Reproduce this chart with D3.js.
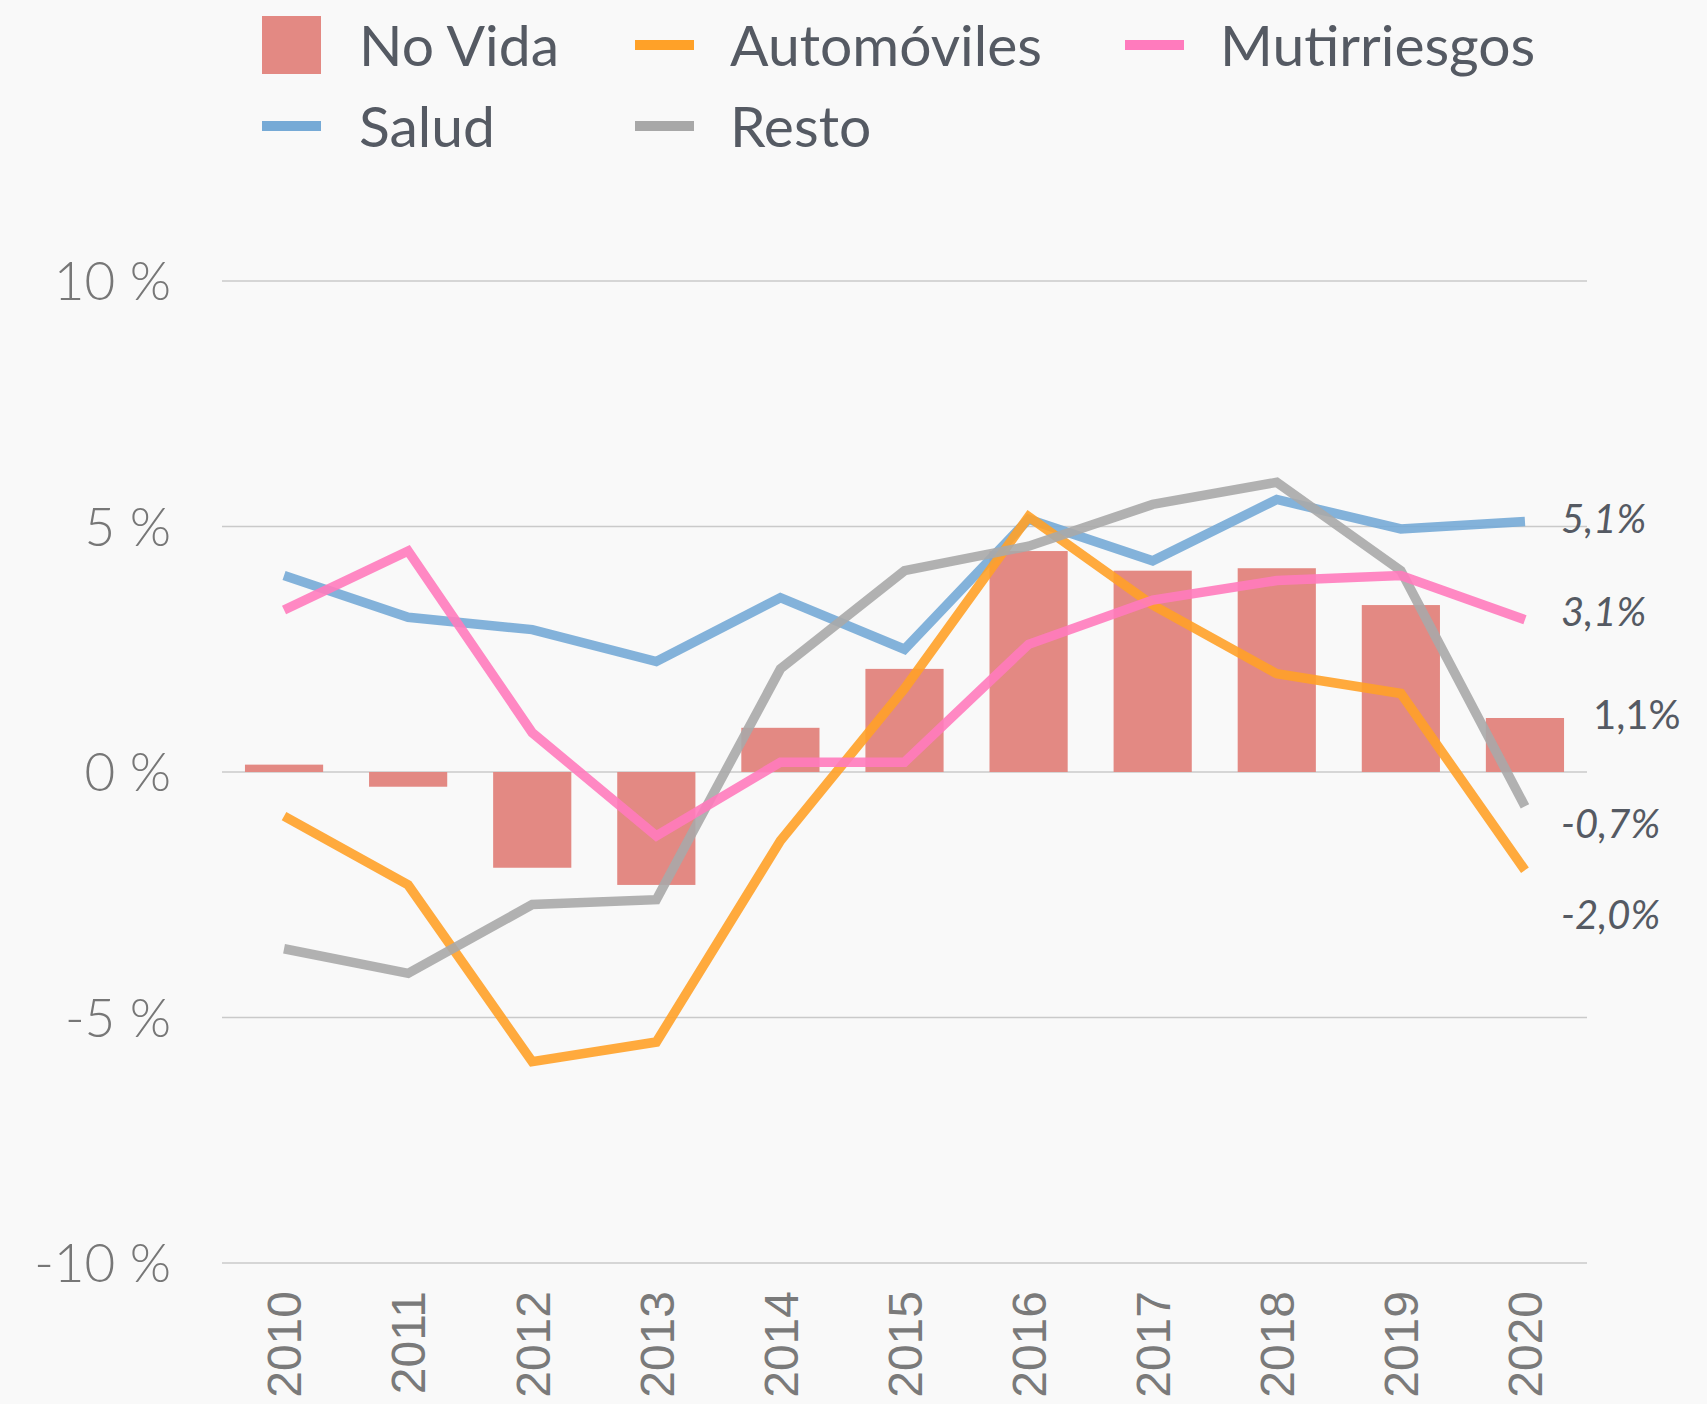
<!DOCTYPE html>
<html>
<head>
<meta charset="utf-8">
<script src="https://cdn.jsdelivr.net/npm/d3@7"></script>
<style>
    html, body { margin: 0; padding: 0; background: #f9f9f9; }
    svg { display: block; }
</style>
</head>
<body>
<svg id="chart"></svg>
<script>
const years = ["2010", "2011", "2012", "2013", "2014", "2015", "2016", "2017", "2018", "2019", "2020"]

const noVida = [0.15, -0.3, -1.95, -2.3, 0.9, 2.1, 4.5, 4.1, 4.15, 3.4, 1.1]
const automoviles = [-0.9, -2.3, -5.9, -5.5, -1.4, 1.7, 5.2, 3.4, 2.0, 1.6, -2.0]
const multirriesgos = [3.3, 4.5, 0.8, -1.3, 0.2, 0.2, 2.6, 3.5, 3.9, 4.0, 3.1]
const salud = [4.0, 3.15, 2.9, 2.25, 3.55, 2.5, 5.15, 4.3, 5.55, 4.95, 5.1]
const resto = [-3.6, -4.1, -2.7, -2.6, 2.1, 4.1, 4.6, 5.45, 5.9, 4.1, -0.7]

const yTicks = [10, 5, 0, -5, -10]

// end labels: text and the value height they sit at
const endLabels = [
    {text: "5,1%", at: 5.17, italic: true},
    {text: "3,1%", at: 3.27, italic: true},
    {text: "1,1%", at: 1.17, italic: false},
    {text: "-0,7%", at: -1.05, italic: true},
    {text: "-2,0%", at: -2.9, italic: true}
]

const series = [
    {name: "Salud", values: salud, color: "#76aad6"},
    {name: "Automóviles", values: automoviles, color: "#ffa128"},
    {name: "Resto", values: resto, color: "#a8a8a8"},
    {name: "Mutirriesgos", values: multirriesgos, color: "#ff7bbd"}
]

const legendItems = [
    {name: "No Vida", color: "#e38983", bar: true, col: 0, row: 0},
    {name: "Automóviles", color: "#ffa128", col: 1, row: 0},
    {name: "Mutirriesgos", color: "#ff7bbd", col: 2, row: 0},
    {name: "Salud", color: "#76aad6", col: 0, row: 1},
    {name: "Resto", color: "#a8a8a8", col: 1, row: 1}
]

const width = 1707,
    height = 1404,
    plotLeft = 222,
    plotRight = 1587,
    plotTop = 281,
    plotBottom = 1263

const svg = d3.select("#chart")
    .attr("width", width)
    .attr("height", height)

svg.append("rect")
    .attr("width", width)
    .attr("height", height)
    .attr("fill", "#f9f9f9")

const x = d3.scaleBand()
    .domain(years)
    .range([plotLeft, plotRight])
    .paddingInner(0.37)
    .paddingOuter(0.185)

const xc = d => x(d) + x.bandwidth() / 2

const y = d3.scaleLinear()
    .domain([-10, 10])
    .range([plotBottom, plotTop])

// grid
svg.append("g")
    .selectAll("line")
    .data(yTicks)
    .join("line")
    .attr("x1", plotLeft)
    .attr("x2", plotRight)
    .attr("y1", d => y(d))
    .attr("y2", d => y(d))
    .attr("stroke", "#cacaca")
    .attr("stroke-width", 1.5)

svg.append("g")
    .selectAll("text")
    .data(yTicks)
    .join("text")
    .attr("x", 171)
    .attr("y", d => y(d))
    .attr("dy", "0.36em")
    .attr("text-anchor", "end")
    .attr("font-family", "Lato")
    .attr("font-weight", 300)
    .attr("font-size", 53)
    .attr("fill", "#777")
    .text(d => d + " %")

// bars
svg.append("g")
    .selectAll("rect")
    .data(noVida)
    .join("rect")
    .attr("x", (d, i) => x(years[i]))
    .attr("width", x.bandwidth())
    .attr("y", d => y(Math.max(0, d)))
    .attr("height", d => Math.abs(y(d) - y(0)))
    .attr("fill", "#e38983")

// lines
const line = d3.line()
    .x((d, i) => xc(years[i]))
    .y(d => y(d))

svg.append("g")
    .selectAll("path")
    .data(series)
    .join("path")
    .attr("d", d => line(d.values))
    .attr("fill", "none")
    .attr("stroke", d => d.color)
    .attr("stroke-width", 9.5)
    .attr("stroke-opacity", 0.9)
    .attr("stroke-linejoin", "miter")

// x labels
svg.append("g")
    .selectAll("text")
    .data(years)
    .join("text")
    .attr("transform", d => `translate(${xc(d)},1291) rotate(-90)`)
    .attr("dy", "0.36em")
    .attr("text-anchor", "end")
    .attr("font-family", "Liberation Sans")
    .attr("font-size", 48)
    .attr("fill", "#7a7a7a")
    .text(d => d)

// end labels
svg.append("g")
    .selectAll("text")
    .data(endLabels)
    .join("text")
    .attr("x", d => d.italic ? 1561 : 1593)
    .attr("y", d => y(d.at))
    .attr("dy", "0.36em")
    .attr("font-family", "Lato")
    .attr("font-style", d => d.italic ? "italic" : "normal")
    .attr("font-size", 40)
    .attr("fill", "#555a63")
    .text(d => d.text)

// legend
const legend = svg.append("g")
    .selectAll("g")
    .data(legendItems)
    .join("g")
    .attr("transform", d => `translate(${[262, 635, 1125][d.col]},${[45, 126][d.row]})`)

legend.append("rect")
    .attr("x", 0)
    .attr("y", d => d.bar ? -29 : -5)
    .attr("width", 59)
    .attr("height", d => d.bar ? 58 : 10)
    .attr("fill", d => d.color)

legend.append("text")
    .attr("x", d => [97, 95, 95][d.col])
    .attr("y", 0)
    .attr("dy", "0.36em")
    .attr("font-family", "Lato")
    .attr("font-size", 57)
    .attr("fill", "#555a63")
    .text(d => d.name)
</script>
</body>
</html>
